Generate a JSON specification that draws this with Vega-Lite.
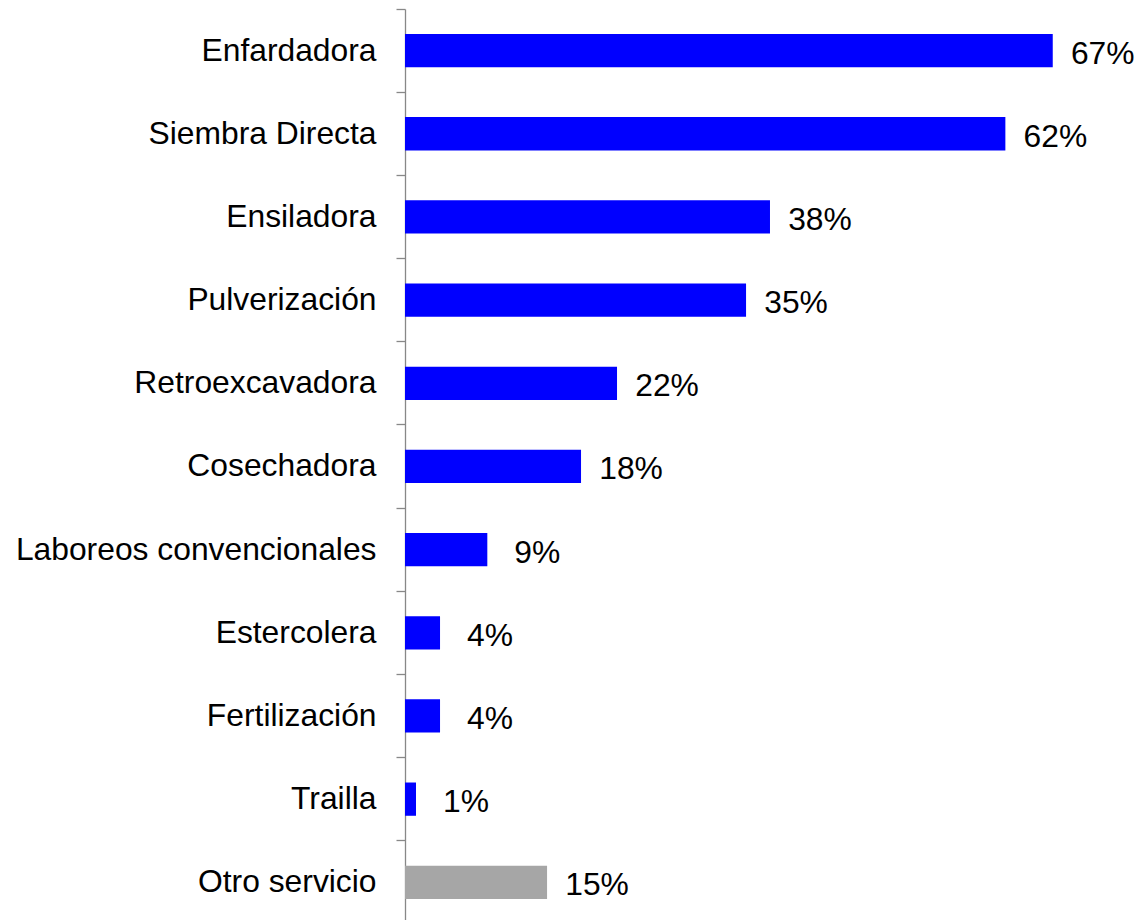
{
  "$schema": "https://vega.github.io/schema/vega-lite/v6.json",
  "autosize": {"type": "none"},
  "width": 732,
  "height": 911,
  "padding": {"left": 405, "top": 9, "right": 0, "bottom": 0},
  "background": "#ffffff",
  "config": {"view": {"stroke": null}},
  "data": {
    "values": [
      {"servicio": "Enfardadora", "valor": 67.12, "etiqueta": "67%", "grupo": "s"},
      {"servicio": "Siembra Directa", "valor": 62.21, "etiqueta": "62%", "grupo": "s"},
      {"servicio": "Ensiladora", "valor": 37.82, "etiqueta": "38%", "grupo": "s"},
      {"servicio": "Pulverización", "valor": 35.34, "etiqueta": "35%", "grupo": "s"},
      {"servicio": "Retroexcavadora", "valor": 21.97, "etiqueta": "22%", "grupo": "s"},
      {"servicio": "Cosechadora", "valor": 18.24, "etiqueta": "18%", "grupo": "s"},
      {"servicio": "Laboreos convencionales", "valor": 8.53, "etiqueta": "9%", "grupo": "s"},
      {"servicio": "Estercolera", "valor": 3.63, "etiqueta": "4%", "grupo": "s"},
      {"servicio": "Fertilización", "valor": 3.63, "etiqueta": "4%", "grupo": "s"},
      {"servicio": "Trailla", "valor": 1.14, "etiqueta": "1%", "grupo": "s"},
      {"servicio": "Otro servicio", "valor": 14.72, "etiqueta": "15%", "grupo": "o"}
    ]
  },
  "encoding": {
    "y": {
      "field": "servicio",
      "type": "nominal",
      "sort": null,
      "scale": {"paddingInner": 0, "paddingOuter": 0, "range": [0, 914.9]},
      "axis": {
        "title": null,
        "bandPosition": 0,
        "labelFont": "Liberation Sans",
        "labelFontSize": 31.8,
        "labelColor": "#000000",
        "labelPadding": 20,
        "labelLimit": 1000,
        "tickSize": 9,
        "tickColor": "#888888",
        "tickWidth": 1.3,
        "domainColor": "#888888",
        "domainWidth": 1.3,
        "grid": false
      }
    },
    "x": {
      "field": "valor",
      "type": "quantitative",
      "scale": {"domain": [0, 75.85], "nice": false, "zero": true},
      "axis": null
    }
  },
  "layer": [
    {
      "mark": {"type": "bar", "height": {"band": 0.4}},
      "encoding": {
        "color": {
          "field": "grupo",
          "type": "nominal",
          "scale": {"domain": ["s", "o"], "range": ["#0000FF", "#A6A6A6"]},
          "legend": null
        }
      }
    },
    {
      "mark": {
        "type": "text",
        "align": "center",
        "baseline": "middle",
        "dx": 50,
        "dy": 3,
        "font": "Liberation Sans",
        "fontSize": 31.8,
        "color": "#000000"
      },
      "encoding": {"text": {"field": "etiqueta"}}
    }
  ]
}
